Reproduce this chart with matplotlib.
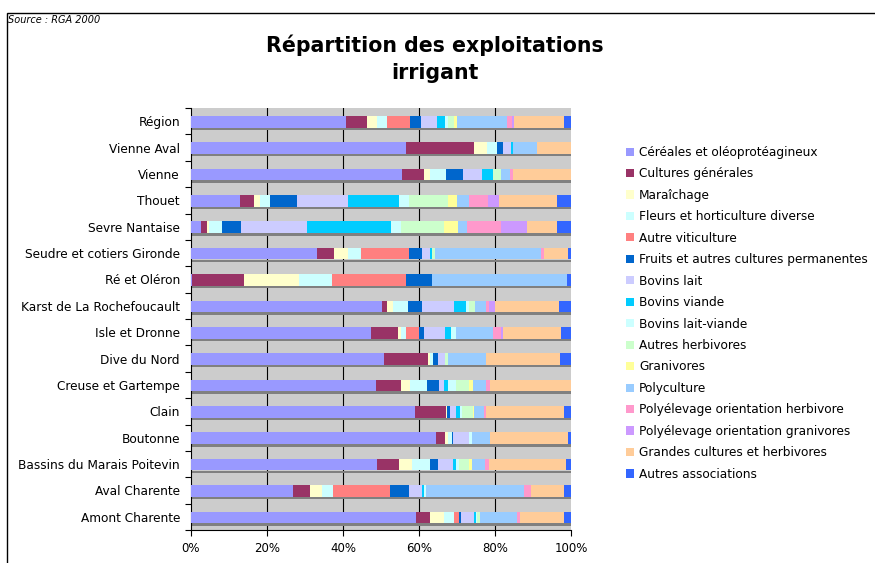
import numpy as np
import matplotlib
matplotlib.use("Agg")
import matplotlib.pyplot as plt
from matplotlib.patches import Patch, Rectangle

# Zones (de haut en bas)
zones = ["Région", "Vienne Aval", "Vienne", "Thouet", "Sevre Nantaise",
         "Seudre et cotiers Gironde", "Ré et Oléron", "Karst de La Rochefoucault",
         "Isle et Dronne", "Dive du Nord", "Creuse et Gartempe", "Clain",
         "Boutonne", "Bassins du Marais Poitevin", "Aval Charente", "Amont Charente"]

# Parts (%) par orientation technico-économique
cereales     = [40.8, 56.6, 55.5, 12.9, 2.6, 33.2, 0.2, 50.3, 47.4, 50.8, 48.7, 58.9, 64.5, 48.9, 26.8, 59.2]
cult_gen     = [5.5, 17.9, 5.8, 3.7, 1.6, 4.5, 13.7, 1.3, 7.1, 11.6, 6.6, 8.2, 2.4, 5.8, 4.5, 3.7]
maraichage   = [2.6, 3.4, 1.6, 1.6, 0.5, 3.7, 14.5, 1.6, 0.8, 0.5, 2.4, 0.3, 0.8, 3.4, 3.2, 3.7]
fleurs       = [2.6, 2.6, 4.2, 2.6, 3.4, 3.4, 8.9, 3.9, 1.3, 0.8, 4.5, 0.0, 1.1, 4.7, 2.9, 2.6]
viticulture  = [6.1, 0.0, 0.0, 0.0, 0.0, 12.6, 19.5, 0.0, 3.4, 0.0, 0.0, 0.0, 0.0, 0.0, 15.0, 1.3]
fruits       = [2.9, 1.6, 4.5, 7.1, 5.0, 3.4, 6.8, 3.7, 1.3, 1.3, 3.2, 0.8, 0.3, 2.1, 5.0, 0.5]
bov_lait     = [4.2, 2.1, 5.0, 13.4, 17.4, 2.1, 0.0, 8.4, 5.5, 1.8, 1.3, 1.6, 4.2, 3.9, 3.4, 3.4]
bov_viande   = [2.1, 0.5, 2.9, 13.4, 22.1, 0.5, 0.0, 3.2, 1.6, 0.0, 1.1, 1.1, 0.0, 0.8, 0.5, 0.5]
bov_mixte    = [0.7, 0.0, 0.0, 2.6, 2.6, 0.0, 0.0, 0.8, 1.3, 0.0, 2.1, 0.5, 0.8, 0.8, 0.5, 0.3]
autres_herb  = [1.6, 0.0, 2.1, 10.3, 11.3, 0.8, 0.0, 1.6, 0.0, 0.8, 3.4, 2.9, 0.0, 2.6, 0.0, 0.8]
granivores   = [0.7, 0.0, 0.0, 2.4, 3.7, 0.0, 0.0, 0.0, 0.0, 0.0, 1.1, 0.3, 0.0, 0.8, 0.0, 0.0]
polyculture  = [13.3, 6.3, 2.4, 3.2, 2.4, 27.9, 35.5, 2.9, 9.7, 10.0, 3.4, 2.6, 4.7, 3.4, 25.8, 9.7]
polyel_herb  = [1.2, 0.0, 0.8, 5.0, 8.9, 0.8, 0.0, 0.8, 2.1, 0.0, 1.1, 0.5, 0.0, 1.1, 1.8, 0.8]
polyel_gran  = [0.6, 0.0, 0.0, 2.9, 6.8, 0.0, 0.0, 1.6, 0.5, 0.0, 0.0, 0.0, 0.0, 0.0, 0.0, 0.0]
grandes_cult = [13.2, 8.9, 15.3, 15.3, 7.9, 6.3, 0.0, 16.8, 15.3, 19.5, 21.3, 20.5, 20.5, 20.3, 8.7, 11.6]
autres_assoc = [1.8, 0.0, 0.0, 3.7, 3.7, 0.8, 1.1, 3.2, 2.6, 2.9, 0.0, 1.8, 0.8, 1.3, 1.8, 1.8]

series = [
    ("Céréales et oléoprotéagineux", cereales, "#9999FF"),
    ("Cultures générales", cult_gen, "#993366"),
    ("Maraîchage", maraichage, "#FFFFCC"),
    ("Fleurs et horticulture diverse", fleurs, "#CCFFFF"),
    ("Autre viticulture", viticulture, "#FF8080"),
    ("Fruits et autres cultures permanentes", fruits, "#0066CC"),
    ("Bovins lait", bov_lait, "#CCCCFF"),
    ("Bovins viande", bov_viande, "#00CCFF"),
    ("Bovins lait-viande", bov_mixte, "#CCFFFF"),
    ("Autres herbivores", autres_herb, "#CCFFCC"),
    ("Granivores", granivores, "#FFFF99"),
    ("Polyculture", polyculture, "#99CCFF"),
    ("Polyélevage orientation herbivore", polyel_herb, "#FF99CC"),
    ("Polyélevage orientation granivores", polyel_gran, "#CC99FF"),
    ("Grandes cultures et herbivores", grandes_cult, "#FFCC99"),
    ("Autres associations", autres_assoc, "#3366FF"),
]

plt.rcParams['font.family'] = ['DejaVu Sans']

W, H = 875, 563
fig = plt.figure(figsize=(W / 100, H / 100), dpi=100)

# cadre extérieur
fig.patches.append(Rectangle((7 / W, -0.01), 1.0, 1 - 13 / H + 0.01, transform=fig.transFigure,
                             fill=False, edgecolor="black", linewidth=1))

ax = fig.add_axes([191 / W, 1 - 530 / H, 380 / W, 422 / H])
ax.set_facecolor("#CCCCCC")

n = len(zones)
y = np.arange(n) + 0.52
totals = np.sum([s[1] for s in series], axis=0)

# ombres sous les barres (effet 3D)
ax.barh(np.arange(n) + 0.79, [100] * n, height=0.09, color="#808080", zorder=1)

left = np.zeros(n)
for label, vals, col in series:
    v = np.array(vals) / totals * 100
    ax.barh(y, v, left=left, height=0.44, color=col, zorder=3)
    left += v

for xg in [20, 40, 60, 80]:
    ax.axvline(xg, color="black", linewidth=0.8, zorder=0.5)

ax.set_xlim(0, 100)
ax.set_ylim(n, 0)
ax.set_xticks([0, 20, 40, 60, 80, 100])
ax.set_xticklabels(["0%", "20%", "40%", "60%", "80%", "100%"], fontsize=8.5)
ax.set_yticks(np.arange(n + 1))
ax.set_yticklabels([])
ax.set_yticks(np.arange(n) + 0.5, minor=True)
ax.set_yticklabels(zones, minor=True, fontsize=8.7)
ax.tick_params(axis="y", which="major", length=4, direction="out")
ax.tick_params(axis="y", which="minor", length=0, pad=8)
ax.tick_params(axis="x", length=4, direction="out", pad=5)
for side in ["top", "right"]:
    ax.spines[side].set_visible(False)
ax.spines["left"].set_color("black")
ax.spines["bottom"].set_color("black")

fig.text(435 / W, 1 - 58.5 / H, "Répartition des exploitations\nirrigant", ha="center",
         va="center", fontsize=14.8, fontweight="bold", linespacing=1.42)
fig.text(8 / W, 1 - 20 / H, "Source : RGA 2000", fontsize=7, style="italic",
         va="center", ha="left")

handles = [Patch(facecolor=c, edgecolor="none", label=l) for l, _, c in series]
fig.legend(handles=handles, loc="upper left", bbox_to_anchor=(621 / W, 1 - 141 / H),
           frameon=False, fontsize=8.7, handlelength=0.66, handleheight=0.66,
           handletextpad=0.45, labelspacing=0.70, borderaxespad=0)

fig.savefig("out.png", dpi=100)
